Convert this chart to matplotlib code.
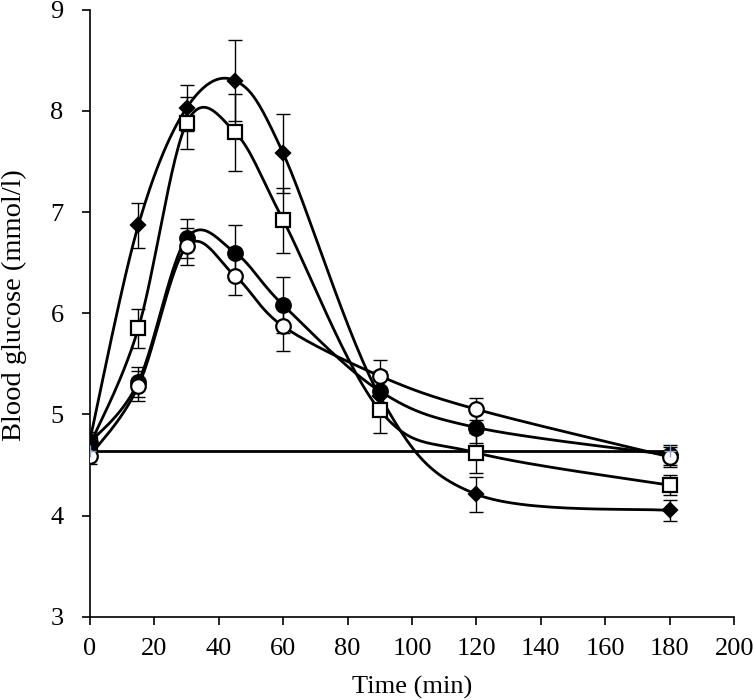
import numpy as np
import matplotlib
matplotlib.use('Agg')
import matplotlib.pyplot as plt

# Time points (min)
t = [0, 15, 30, 45, 60, 90, 120, 180]

# Blood glucose means and errors
diamond = [4.75, 6.87, 8.03, 8.30, 7.58, 5.18, 4.21, 4.05]
diamond_err = [0.08, 0.22, 0.23, 0.40, 0.39, 0.20, 0.17, 0.10]
square = [4.70, 5.85, 7.88, 7.79, 6.92, 5.04, 4.62, 4.30]
square_err = [0.08, 0.19, 0.26, 0.38, 0.32, 0.22, 0.20, 0.10]
filled = [4.72, 5.32, 6.74, 6.60, 6.08, 5.23, 4.87, 4.60]
filled_err = [0.08, 0.15, 0.19, 0.27, 0.28, 0.20, 0.15, 0.10]
opencirc = [4.59, 5.28, 6.66, 6.37, 5.87, 5.38, 5.05, 4.58]
opencirc_err = [0.08, 0.15, 0.18, 0.19, 0.24, 0.16, 0.11, 0.10]

baseline_t = [0, 180]
baseline = [4.64, 4.64]

plt.rcParams['font.family'] = ['Liberation Serif', 'DejaVu Serif']
plt.rc('font', size=19)


def smooth(x, y, n=30):
    # Excel-like smoothing: Catmull-Rom through points in screen-ish units
    sx, sy = 3.22, 101.1
    px = np.array(x, float) * sx
    py = np.array(y, float) * sy
    P = np.column_stack([px, py])
    P = np.vstack([P[0], P, P[-1]])
    out = []
    for i in range(1, len(P) - 2):
        p0, p1, p2, p3 = P[i - 1], P[i], P[i + 1], P[i + 2]
        c1 = p1 + (p2 - p0) / 6
        c2 = p2 - (p3 - p1) / 6
        s = np.linspace(0, 1, n)[:, None]
        seg = ((1 - s) ** 3) * p1 + 3 * ((1 - s) ** 2) * s * c1 + 3 * (1 - s) * s ** 2 * c2 + s ** 3 * p2
        out.append(seg)
    out = np.vstack(out)
    return out[:, 0] / sx, out[:, 1] / sy


fig = plt.figure(figsize=(7.53, 7.0), dpi=100)
ax = fig.add_axes([0.1195, 0.119, 0.8555, 0.867])

ax.plot(baseline_t, baseline, color='black', linewidth=2.0, zorder=2)
ax.plot(baseline_t, baseline, linestyle='none', marker='+', color='#8fa3c8', markersize=8, zorder=6)

series = [
    (diamond, diamond_err, 'D', 'black', 7.5),
    (square, square_err, 's', 'white', 10),
    (filled, filled_err, 'o', 'black', 10.5),
    (opencirc, opencirc_err, 'o', 'white', 10.5),
]
for vals, err, mk, fc, ms in series:
    ax.errorbar(t, vals, yerr=err, fmt='none', ecolor='black', elinewidth=1.0,
                capsize=5, capthick=1.0, zorder=3)
    xs, ys = smooth(t, vals)
    ax.plot(xs, ys, color='black', linewidth=2.0, zorder=4)
    ax.plot(t, vals, linestyle='none', marker=mk, markersize=ms, markerfacecolor=fc,
            markeredgecolor='black', markeredgewidth=1.6, zorder=5)

ax.set_xlim(0, 200)
ax.set_ylim(3, 9)
ax.set_xticks(range(0, 201, 20))
ax.set_yticks(range(3, 10))
ax.spines['top'].set_visible(False)
ax.spines['right'].set_visible(False)
ax.spines['left'].set_linewidth(1.2)
ax.spines['bottom'].set_linewidth(1.2)
ax.tick_params(direction='out', length=6, width=1.2)
ax.tick_params(axis='x', pad=9)
ax.tick_params(axis='y', pad=13)
ax.set_xlabel('Time (min)', va='center')
ax.set_ylabel('Blood glucose (mmol/l)', fontsize=20.5, va='center')
ax.xaxis.set_label_coords(0.5, -0.116)
ax.yaxis.set_label_coords(-0.118, 0.513)

fig.savefig('out.png', dpi=100)
